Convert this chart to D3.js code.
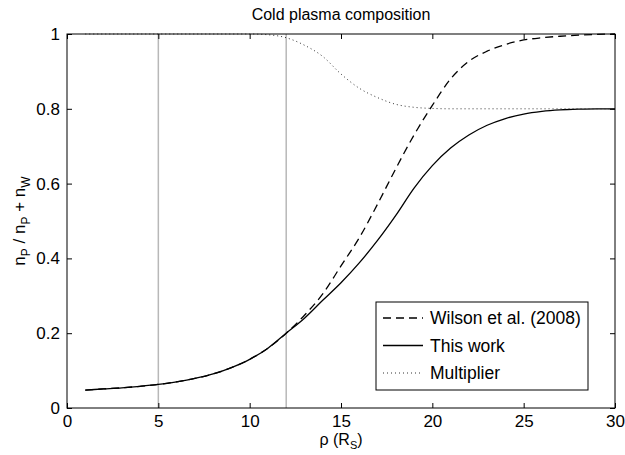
<!DOCTYPE html>
<html><head><meta charset="utf-8">
<script src="https://cdn.jsdelivr.net/npm/d3@7"></script>
<style>
body{margin:0;background:#fff;}
text{font-family:"Liberation Sans",Arial,Helvetica,sans-serif;fill:#000;}
</style></head>
<body>
<svg id="chart" width="625" height="455"></svg>
<script>
const rho = [1,2,3,4,5,6,7,8,9,10,11,12,13,14,15,16,17,18,19,20,21,22,23,24,25,26,27,28,29,30];
const wilson = [0.048,0.051,0.054,0.058,0.063,0.070,0.079,0.091,0.108,0.130,0.160,0.200,0.248,0.305,0.380,0.455,0.545,0.640,0.730,0.809,0.880,0.927,0.954,0.972,0.984,0.990,0.994,0.997,0.999,1.000];
const thisWork = [0.048,0.051,0.054,0.058,0.063,0.070,0.079,0.091,0.108,0.130,0.160,0.200,0.240,0.288,0.335,0.388,0.448,0.515,0.588,0.648,0.695,0.730,0.756,0.774,0.786,0.793,0.797,0.799,0.800,0.800];
const multiplier = [1,1,1,1,1,1,1,1,1,1,0.998,0.99,0.97,0.94,0.893,0.855,0.83,0.812,0.804,0.801,0.8,0.8,0.8,0.8,0.8,0.8,0.8,0.8,0.8,0.8];
const markerLines = [5,12];
const xTicks = [0,5,10,15,20,25,30];
const yTicks = [0,0.2,0.4,0.6,0.8,1];
const legendLabels = ["Wilson et al. (2008)","This work","Multiplier"];

const L=67,R=615,T=34,B=408;
const svg=d3.select("#chart");
const x=d3.scaleLinear().domain([0,30]).range([L,R]);
const y=d3.scaleLinear().domain([0,1]).range([B,T]);

svg.selectAll("line.mk").data(markerLines).enter().append("line")
  .attr("x1",d=>x(d)).attr("x2",d=>x(d)).attr("y1",y(0)).attr("y2",y(1))
  .attr("stroke","#b8b8b8").attr("stroke-width",1.5);

const styles=[
  {data:wilson,dash:"8,5",w:1.3,c:"#000"},
  {data:thisWork,dash:null,w:1.3,c:"#000"},
  {data:multiplier,dash:"1,3",w:1,c:"#333"}
];
const line=d3.line().x((d,i)=>x(rho[i])).y(d=>y(d)).curve(d3.curveMonotoneX);
styles.forEach(s=>{
  svg.append("path").datum(s.data).attr("d",line).attr("fill","none")
    .attr("stroke",s.c).attr("stroke-width",s.w).attr("stroke-dasharray",s.dash);
});

const tl=5, fs=17;
const gx=svg.append("g").attr("transform",`translate(0,${B})`)
  .call(d3.axisBottom(x).tickValues(xTicks).tickSize(-tl).tickPadding(7).tickFormat(d3.format("d")));
const gxt=svg.append("g").attr("transform",`translate(0,${T})`)
  .call(d3.axisTop(x).tickValues(xTicks).tickSize(-tl).tickFormat(""));
const gy=svg.append("g").attr("transform",`translate(${L},0)`)
  .call(d3.axisLeft(y).tickValues(yTicks).tickSize(-tl).tickPadding(7).tickFormat(d=>d===0||d===1?d3.format("d")(d):d3.format(".1f")(d)));
const gyr=svg.append("g").attr("transform",`translate(${R},0)`)
  .call(d3.axisRight(y).tickValues(yTicks).tickSize(-tl).tickFormat(""));
[gx,gxt,gy,gyr].forEach(g=>{
  g.select(".domain").remove();
  g.selectAll("line").attr("stroke","#000");
  g.selectAll("text").attr("font-size",fs).attr("font-family","Liberation Sans, Arial, sans-serif").attr("fill","#000");
});
gy.selectAll("text").attr("dy","0.32em");
svg.append("rect").attr("x",L).attr("y",T).attr("width",R-L).attr("height",B-T)
  .attr("fill","none").attr("stroke","#000").attr("stroke-width",1);

svg.append("text").attr("x",(L+R)/2).attr("y",20).attr("text-anchor","middle")
  .attr("font-size",16).text("Cold plasma composition");

const xl=svg.append("text").attr("x",(L+R)/2).attr("y",445).attr("text-anchor","middle").attr("font-size",16);
xl.append("tspan").text("ρ (R");
xl.append("tspan").attr("font-size",11).attr("dy",4).text("S");
xl.append("tspan").attr("dy",-4).text(")");

const yl=svg.append("text").attr("transform",`translate(25,${(T+B)/2}) rotate(-90)`).attr("text-anchor","middle").attr("font-size",fs);
yl.append("tspan").text("n");
yl.append("tspan").attr("font-size",12).attr("dy",5).text("P");
yl.append("tspan").attr("dy",-5).text(" / n");
yl.append("tspan").attr("font-size",12).attr("dy",5).text("P");
yl.append("tspan").attr("dy",-5).text(" + n");
yl.append("tspan").attr("font-size",12).attr("dy",5).text("W");

const lg=svg.append("g");
lg.append("rect").attr("x",376).attr("y",302).attr("width",212).attr("height",88)
  .attr("fill","#fff").attr("stroke","#000").attr("stroke-width",1);
legendLabels.forEach((lab,i)=>{
  const yy=318+i*27.5;
  lg.append("line").attr("x1",383).attr("x2",423).attr("y1",yy).attr("y2",yy)
    .attr("stroke",styles[i].c).attr("stroke-width",styles[i].w).attr("stroke-dasharray",styles[i].dash);
  lg.append("text").attr("x",430).attr("y",yy).attr("dy","0.35em").attr("font-size",17.5).text(lab);
});
</script>
</body></html>
